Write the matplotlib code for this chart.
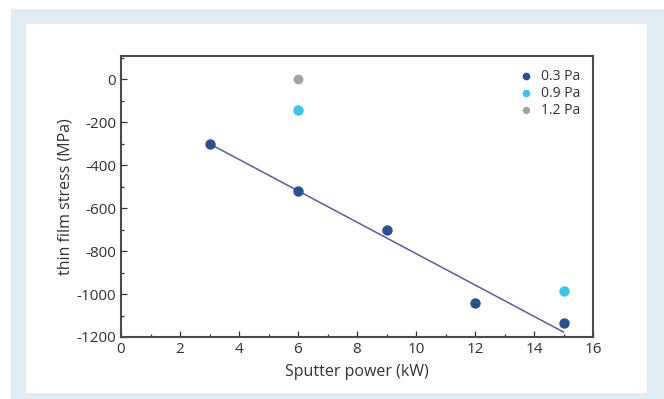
import matplotlib.pyplot as plt
import numpy as np
from matplotlib.patches import Rectangle
from matplotlib.ticker import MultipleLocator

plt.rcParams['font.family'] = ['Open Sans', 'DejaVu Sans']
plt.rcParams['axes.unicode_minus'] = False

# Dados
potencia_03 = [3, 6, 9, 12, 15]
tensao_03 = [-300, -520, -700, -1040, -1135]
potencia_09 = [6, 15]
tensao_09 = [-145, -985]
potencia_12 = [6]
tensao_12 = [0]

labels = ['0.3 Pa', '0.9 Pa', '1.2 Pa']
cores = ['#2d4f8e', '#3fc4e8', '#a3a3a3']
cor_linha = '#5a5e98'

# Ajuste linear da série 0.3 Pa
coef = np.polyfit(potencia_03, tensao_03, 1)
x_fit = np.array([min(potencia_03), max(potencia_03)])
y_fit = np.polyval(coef, x_fit)

fig = plt.figure(figsize=(6.64, 3.99), dpi=100)
fig.patches.append(Rectangle((11 / 664, 0), 653 / 664, 390 / 399,
                             transform=fig.transFigure, facecolor='#e1ecf3',
                             edgecolor='none', zorder=-2))
fig.patches.append(Rectangle((26 / 664, 6 / 399), 621 / 664, 369 / 399,
                             transform=fig.transFigure, facecolor='white',
                             edgecolor='none', zorder=-1))

ax = fig.add_axes([121 / 664, 62 / 399, 472 / 664, 281 / 399])
ax.set_facecolor('none')

ax.plot(x_fit, y_fit, color=cor_linha, lw=1.1, zorder=1)
ax.scatter(potencia_03, tensao_03, s=42, color=cores[0], label=labels[0], zorder=3)
ax.scatter(potencia_09, tensao_09, s=42, color=cores[1], label=labels[1], zorder=3)
ax.scatter(potencia_12, tensao_12, s=36, color=cores[2], label=labels[2], zorder=3)

ax.set_xlim(0, 16)
ax.set_ylim(-1200, 107)
ax.xaxis.set_major_locator(MultipleLocator(2))
ax.xaxis.set_minor_locator(MultipleLocator(1))
ax.yaxis.set_major_locator(MultipleLocator(200))
ax.yaxis.set_minor_locator(MultipleLocator(100))
ax.tick_params(which='both', direction='in', colors='#333333', labelsize=11,
               labelcolor='#333333')
ax.tick_params(which='major', length=4, width=0.9)
ax.tick_params(which='minor', length=2.5, width=0.9)
for s in ax.spines.values():
    s.set_visible(True)
    s.set_color('#4a4a4a')
    s.set_linewidth(1.5)

ax.set_xlabel('Sputter power (kW)', fontsize=11.5, color='#333333', labelpad=5)
ax.set_ylabel('thin film stress (MPa)', fontsize=11.5, color='#333333', labelpad=2)

leg = ax.legend(loc='upper right', frameon=False, fontsize=10, markerscale=0.7,
                handletextpad=0.6, labelspacing=0.15, borderaxespad=0.5,
                handlelength=1.0)
for t in leg.get_texts():
    t.set_color('#333333')

fig.savefig('out.png', dpi=100)
